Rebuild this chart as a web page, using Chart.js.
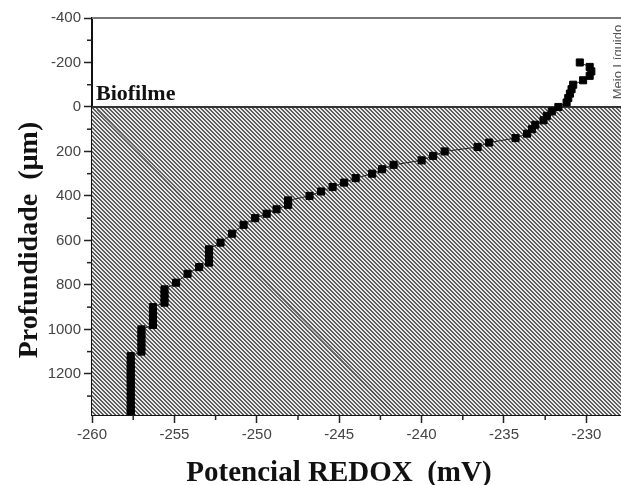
<!DOCTYPE html>
<html>
<head>
<meta charset="utf-8">
<script src="https://cdn.jsdelivr.net/npm/chart.js@4"></script>
<style>
  html, body { margin: 0; padding: 0; background: #fff; }
  #wrap { width: 621px; height: 485px; }
</style>
</head>
<body>
<div id="wrap"><canvas id="chart_redox"></canvas></div>
<script>
// Data
depth_um = [-200, -180, -160, -140, -120, -100, -80, -60, -40, -20,
            0, 20, 40, 60, 80, 100, 120, 140, 160, 180,
            200, 220, 240, 260, 280, 300, 320, 340, 360, 380,
            400, 420, 440, 460, 480, 500, 530, 570, 610, 640,
            660, 680, 700, 720, 750, 790, 820, 840, 860, 880,
            900, 920, 940, 960, 980, 1000, 1020, 1040, 1060, 1080,
            1100, 1120, 1140, 1160, 1180, 1200, 1220, 1240, 1260, 1280,
            1300, 1320, 1340, 1360, 1380]
potential_mV = [-230.4, -229.8, -229.7, -229.8, -230.2, -230.8, -230.9, -231.0, -231.1, -231.2,
                -231.7, -232.1, -232.4, -232.6, -233.1, -233.3, -233.6, -234.3, -235.9, -236.6,
                -238.6, -239.3, -240.0, -241.7, -242.4, -243.0, -244.0, -244.7, -245.4, -246.1,
                -246.8, -248.1, -248.1, -248.8, -249.4, -250.1, -250.8, -251.5, -252.2, -252.9,
                -252.9, -252.9, -252.9, -253.5, -254.2, -254.9, -255.6, -255.6, -255.6, -255.6,
                -256.3, -256.3, -256.3, -256.3, -256.3, -257.0, -257.0, -257.0, -257.0, -257.0,
                -257.0, -257.65, -257.65, -257.65, -257.65, -257.65, -257.65, -257.65, -257.65, -257.65,
                -257.65, -257.65, -257.65, -257.65, -257.65]
streak_mV = [-259.7, -241.7]
streak_um = [13, 1375]
x_ticks = [-260, -255, -250, -245, -240, -235, -230]
y_ticks = [-400, -200, 0, 200, 400, 600, 800, 1000, 1200]

function pts(xs, ys) {
  return xs.map(function (x, i) { return {x: x, y: ys[i]}; });
}

// biofilm hatch below depth 0 + frame lines
var hatch = {
  id: 'hatch',
  beforeDatasetsDraw: function (chart) {
    var ctx = chart.ctx, a = chart.chartArea;
    var y0 = chart.scales.y.getPixelForValue(0);
    var tile = document.createElement('canvas');
    tile.width = 4; tile.height = 4;
    var t = tile.getContext('2d');
    t.fillStyle = '#e8e8e8'; t.fillRect(0, 0, 4, 4);
    t.fillStyle = '#5e5e5e';
    for (var i = 0; i < 4; i++) { t.fillRect(i, i, 1, 1); t.fillRect((i + 1) % 4, i, 1, 1); }
    ctx.save();
    ctx.fillStyle = ctx.createPattern(tile, 'repeat');
    ctx.fillRect(a.left, y0, a.right - a.left, a.bottom - y0);
    ctx.strokeStyle = '#333'; ctx.lineWidth = 2;
    ctx.beginPath(); ctx.moveTo(a.left, y0); ctx.lineTo(a.right, y0); ctx.stroke();
    ctx.strokeStyle = '#777'; ctx.lineWidth = 2;
    ctx.beginPath(); ctx.moveTo(a.left, a.top); ctx.lineTo(a.right, a.top); ctx.stroke();
    ctx.restore();
  },
  afterDraw: function (chart) {
    var ctx = chart.ctx, a = chart.chartArea, sx = chart.scales.x, sy = chart.scales.y;
    ctx.save();
    // minor ticks
    ctx.strokeStyle = '#222'; ctx.lineWidth = 1.5;
    x_ticks.forEach(function (v) {
      var m = v + 2.5;
      if (m > sx.max) return;
      var px = sx.getPixelForValue(m);
      ctx.beginPath(); ctx.moveTo(px, a.bottom); ctx.lineTo(px, a.bottom + 5); ctx.stroke();
    });
    y_ticks.forEach(function (v) {
      var m = v + 100;
      if (m > sy.max) return;
      var py = sy.getPixelForValue(m);
      ctx.beginPath(); ctx.moveTo(a.left, py); ctx.lineTo(a.left - 5, py); ctx.stroke();
    });
    // texts
    ctx.fillStyle = '#111';
    ctx.font = 'bold 22px "Liberation Serif", "Times New Roman", serif';
    ctx.textAlign = 'left'; ctx.textBaseline = 'alphabetic';
    ctx.fillText('Biofilme', 96, 100);
    ctx.font = 'bold 29px "Liberation Serif", "Times New Roman", serif';
    ctx.textAlign = 'center';
    ctx.fillText('Potencial REDOX  (mV)', 339, 481);
    ctx.save();
    ctx.translate(37, 240); ctx.rotate(-Math.PI / 2);
    ctx.font = 'bold 28px "Liberation Serif", "Times New Roman", serif';
    ctx.fillText('Profundidade  (\u00b5m)', 0, 0);
    ctx.restore();
    ctx.save();
    ctx.translate(622, 62); ctx.rotate(-Math.PI / 2);
    ctx.font = '13px "Liberation Sans", Arial, sans-serif';
    ctx.fillStyle = '#555';
    ctx.fillText('Meio L\u00edquido', 0, 0);
    ctx.restore();
    ctx.restore();
  }
};

var tickFont = {family: '"Liberation Sans", Arial, sans-serif', size: 15};

var config = {
  type: 'scatter',
  data: {
    datasets: [{
      label: 'Potencial REDOX',
      data: pts(potential_mV, depth_um),
      showLine: true,
      borderColor: '#222',
      borderWidth: 1,
      pointStyle: 'rect',
      pointRadius: 5,
      pointBorderWidth: 1,
      pointBackgroundColor: '#000',
      pointBorderColor: '#000'
    }, {
      label: 'streak',
      data: pts(streak_mV, streak_um),
      showLine: true,
      borderColor: 'rgba(30,30,30,0.5)',
      borderWidth: 1,
      pointRadius: 0
    }]
  },
  options: {
    responsive: true,
    maintainAspectRatio: false,
    animation: false,
    layout: {autoPadding: false, padding: {top: 18, left: 0, right: 0, bottom: 0}},
    plugins: {legend: {display: false}, tooltip: {enabled: false}},
    scales: {
      x: {
        type: 'linear',
        min: -260, max: -227.9,
        afterBuildTicks: function (s) { s.ticks = x_ticks.map(function (v) { return {value: v}; }); },
        afterFit: function (s) { s.height = 70; s.paddingRight = 0; s.paddingLeft = 0; },
        border: {color: '#111', width: 2},
        grid: {drawOnChartArea: false, drawTicks: true, tickLength: 8, tickWidth: 1.5, tickColor: '#222'},
        ticks: {font: tickFont, color: '#444', padding: 3, maxRotation: 0,
                callback: function (v) { return String(v); }}
      },
      y: {
        type: 'linear',
        reverse: true,
        min: -400, max: 1385,
        afterBuildTicks: function (s) { s.ticks = y_ticks.map(function (v) { return {value: v}; }); },
        afterFit: function (s) { s.width = 92; },
        border: {color: '#111', width: 2},
        grid: {drawOnChartArea: false, drawTicks: true, tickLength: 8, tickWidth: 1.5, tickColor: '#222'},
        ticks: {font: tickFont, color: '#444', padding: 3,
                callback: function (v) { return String(v); }}
      }
    }
  },
  plugins: [hatch]
};

var ctx = document.getElementById('chart_redox');
var ch_redox = new Chart(ctx, config);
</script>
</body>
</html>
